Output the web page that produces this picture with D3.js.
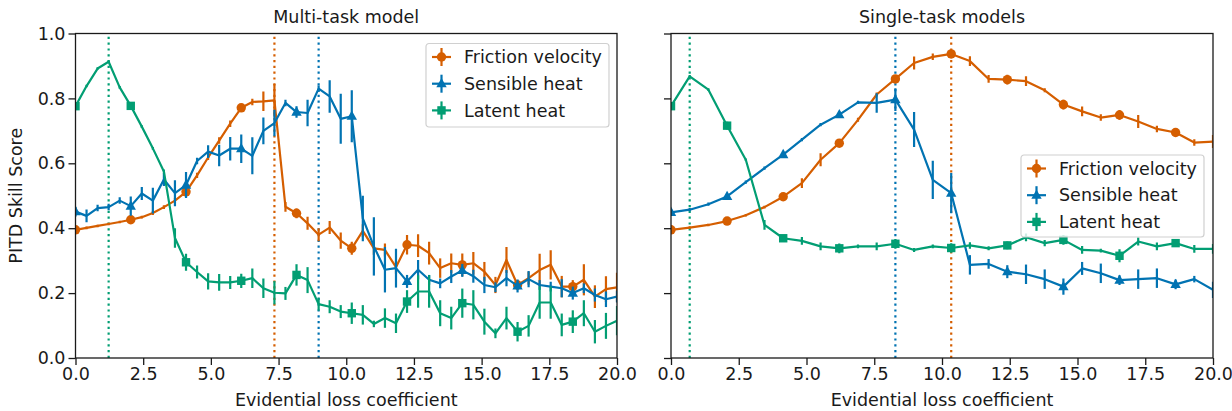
<!DOCTYPE html>
<html>
<head>
<meta charset="utf-8">
<title>PITD Skill Score</title>
<style>
  body { margin: 0; background: #fff; }
  text { font-family: "DejaVu Sans", sans-serif; fill: #1a1a1a; }
</style>
</head>
<body>
<script src="https://d3js.org/d3.v7.min.js"></script>
<script>
// evidential loss coefficient grids
var xMulti = [0, 0.408, 0.816, 1.224, 1.633, 2.041, 2.449, 2.857, 3.265, 3.673,
  4.082, 4.490, 4.898, 5.306, 5.714, 6.122, 6.531, 6.939, 7.347, 7.755,
  8.163, 8.571, 8.980, 9.388, 9.796, 10.204, 10.612, 11.020, 11.429, 11.837,
  12.245, 12.653, 13.061, 13.469, 13.878, 14.286, 14.694, 15.102, 15.510, 15.918,
  16.327, 16.735, 17.143, 17.551, 17.959, 18.367, 18.776, 19.184, 19.592, 20];
var xSingle = [0, 0.69, 1.38, 2.07, 2.76, 3.45, 4.14, 4.83, 5.52, 6.21,
  6.90, 7.59, 8.28, 8.97, 9.66, 10.34, 11.03, 11.72, 12.41, 13.10,
  13.79, 14.48, 15.17, 15.86, 16.55, 17.24, 17.93, 18.62, 19.31, 20];

// multi-task model
var fricMulti = [0.395, 0.401, 0.407, 0.413, 0.419, 0.426, 0.434, 0.447, 0.465, 0.485,
  0.512, 0.563, 0.618, 0.670, 0.722, 0.771, 0.789, 0.791, 0.794, 0.466,
  0.446, 0.415, 0.380, 0.402, 0.362, 0.338, 0.392, 0.338, 0.333, 0.280,
  0.349, 0.346, 0.323, 0.277, 0.292, 0.287, 0.292, 0.266, 0.225, 0.302,
  0.225, 0.246, 0.271, 0.287, 0.220, 0.220, 0.241, 0.189, 0.212, 0.218];
var fricMultiErr = [0.006, 0.004, 0.004, 0.004, 0.004, 0.006, 0.004, 0.006, 0.006, 0.008,
  0.010, 0.008, 0.008, 0.010, 0.010, 0.010, 0.010, 0.030, 0.050, 0.015,
  0.015, 0.020, 0.020, 0.020, 0.025, 0.020, 0.020, 0.020, 0.020, 0.020,
  0.030, 0.035, 0.035, 0.030, 0.030, 0.035, 0.035, 0.030, 0.025, 0.040,
  0.015, 0.020, 0.050, 0.045, 0.033, 0.020, 0.048, 0.035, 0.040, 0.045];
var sensMulti = [0.451, 0.438, 0.462, 0.465, 0.485, 0.468, 0.507, 0.485, 0.550, 0.508,
  0.533, 0.607, 0.636, 0.624, 0.645, 0.645, 0.623, 0.700, 0.724, 0.786,
  0.758, 0.755, 0.830, 0.806, 0.737, 0.745, 0.430, 0.344, 0.272, 0.277,
  0.236, 0.272, 0.241, 0.230, 0.251, 0.270, 0.252, 0.225, 0.218, 0.246,
  0.222, 0.243, 0.225, 0.220, 0.215, 0.200, 0.215, 0.194, 0.181, 0.189];
var sensMultiErr = [0.015, 0.020, 0.010, 0.010, 0.010, 0.030, 0.020, 0.040, 0.020, 0.040,
  0.040, 0.010, 0.020, 0.033, 0.036, 0.044, 0.057, 0.041, 0.041, 0.010,
  0.018, 0.041, 0.010, 0.050, 0.077, 0.080, 0.070, 0.090, 0.070, 0.060,
  0.020, 0.030, 0.015, 0.015, 0.020, 0.020, 0.020, 0.025, 0.015, 0.025,
  0.020, 0.025, 0.015, 0.015, 0.028, 0.020, 0.015, 0.020, 0.024, 0.018];
var latMulti = [0.776, 0.838, 0.892, 0.913, 0.834, 0.777, 0.713, 0.646, 0.575, 0.370,
  0.295, 0.265, 0.236, 0.233, 0.233, 0.238, 0.246, 0.215, 0.201, 0.199,
  0.256, 0.240, 0.166, 0.158, 0.143, 0.138, 0.133, 0.105, 0.123, 0.107,
  0.174, 0.205, 0.205, 0.138, 0.123, 0.169, 0.164, 0.112, 0.076, 0.123,
  0.081, 0.099, 0.171, 0.171, 0.102, 0.112, 0.138, 0.081, 0.099, 0.115];
var latMultiErr = [0.006, 0.004, 0.004, 0.004, 0.004, 0.006, 0.004, 0.004, 0.006, 0.030,
  0.026, 0.020, 0.025, 0.026, 0.020, 0.022, 0.030, 0.030, 0.036, 0.020,
  0.033, 0.040, 0.020, 0.020, 0.020, 0.033, 0.030, 0.010, 0.030, 0.030,
  0.035, 0.050, 0.050, 0.040, 0.035, 0.045, 0.045, 0.040, 0.015, 0.035,
  0.030, 0.033, 0.050, 0.050, 0.035, 0.035, 0.040, 0.036, 0.040, 0.045];

// single-task models
var fricSingle = [0.395, 0.402, 0.410, 0.422, 0.440, 0.465, 0.497, 0.539, 0.611, 0.662,
  0.734, 0.812, 0.860, 0.909, 0.928, 0.937, 0.915, 0.860, 0.858, 0.853,
  0.825, 0.781, 0.760, 0.741, 0.749, 0.729, 0.706, 0.695, 0.664, 0.667];
var fricSingleErr = [0.008, 0.004, 0.004, 0.008, 0.004, 0.004, 0.008, 0.015, 0.020, 0.010,
  0.006, 0.006, 0.010, 0.020, 0.010, 0.012, 0.015, 0.012, 0.015, 0.015,
  0.006, 0.015, 0.015, 0.010, 0.015, 0.020, 0.010, 0.010, 0.010, 0.020];
var sensSingle = [0.449, 0.457, 0.474, 0.498, 0.542, 0.585, 0.627, 0.673, 0.719, 0.750,
  0.788, 0.786, 0.796, 0.704, 0.549, 0.508, 0.287, 0.290, 0.266, 0.258,
  0.243, 0.220, 0.276, 0.261, 0.240, 0.243, 0.246, 0.227, 0.243, 0.210];
var sensSingleErr = [0.010, 0.005, 0.005, 0.010, 0.005, 0.005, 0.010, 0.005, 0.005, 0.010,
  0.005, 0.030, 0.035, 0.054, 0.059, 0.062, 0.030, 0.015, 0.020, 0.030,
  0.030, 0.025, 0.020, 0.030, 0.015, 0.030, 0.030, 0.015, 0.010, 0.025];
var latSingle = [0.776, 0.868, 0.827, 0.716, 0.611, 0.410, 0.369, 0.361, 0.344, 0.338,
  0.344, 0.344, 0.352, 0.333, 0.344, 0.339, 0.347, 0.338, 0.347, 0.372,
  0.354, 0.364, 0.333, 0.331, 0.315, 0.359, 0.344, 0.354, 0.336, 0.336];
var latSingleErr = [0.012, 0.004, 0.004, 0.012, 0.004, 0.015, 0.010, 0.012, 0.012, 0.015,
  0.006, 0.012, 0.015, 0.006, 0.006, 0.015, 0.010, 0.006, 0.012, 0.012,
  0.010, 0.015, 0.012, 0.006, 0.020, 0.012, 0.012, 0.012, 0.012, 0.015];

var seriesNames = ["Friction velocity", "Sensible heat", "Latent heat"];
var seriesColors = ["#d55e00", "#0173b2", "#029e73"];
var seriesMarkers = ["circle", "triangle", "square"];
var xTicks = [0, 2.5, 5, 7.5, 10, 12.5, 15, 17.5, 20];
var yTicks = [0, 0.2, 0.4, 0.6, 0.8, 1.0];

var panels = [
  { title: "Multi-task model", x: xMulti, every: 5, left: 75.5, right: 617,
    ys: [fricMulti, sensMulti, latMulti], errs: [fricMultiErr, sensMultiErr, latMultiErr],
    legend: { x: 426, y: 43.5, w: 183, h: 83.5 } },
  { title: "Single-task models", x: xSingle, every: 3, left: 671, right: 1213,
    ys: [fricSingle, sensSingle, latSingle], errs: [fricSingleErr, sensSingleErr, latSingleErr],
    legend: { x: 1021, y: 155, w: 183, h: 82 } }
];

var plotTop = 33.5, plotBottom = 358;
var fontSize = "17.5px";

var svg = d3.select("body").append("svg")
    .attr("width", 1232)
    .attr("height", 411);
svg.append("rect").attr("width", 1232).attr("height", 411).attr("fill", "#fff");

var yScale = d3.scaleLinear().domain([0, 1]).range([plotBottom, plotTop]);

function marker(g, type, cx, cy, color) {
  if (type == "circle") {
    g.append("circle").attr("cx", cx).attr("cy", cy).attr("r", 4.7).attr("fill", color);
  } else if (type == "square") {
    g.append("rect").attr("x", cx - 4.2).attr("y", cy - 4.2).attr("width", 8.4).attr("height", 8.4).attr("fill", color);
  } else {
    g.append("path").attr("d", "M" + cx + "," + (cy - 5.7) + "L" + (cx + 5.2) + "," + (cy + 3.6) + "L" + (cx - 5.2) + "," + (cy + 3.6) + "Z")
      .attr("fill", color);
  }
}

panels.forEach(function(p, pi) {
  var xScale = d3.scaleLinear().domain([0, 20]).range([p.left, p.right]);
  var g = svg.append("g");

  // clip to the axes box
  var clipId = "clip" + pi;
  svg.append("clipPath").attr("id", clipId).append("rect")
    .attr("x", p.left).attr("y", plotTop).attr("width", p.right - p.left).attr("height", plotBottom - plotTop);
  var plot = g.append("g").attr("clip-path", "url(#" + clipId + ")");

  // dotted lines at the best coefficient of each series
  p.ys.forEach(function(ys, si) {
    var best = p.x[d3.maxIndex(ys)];
    plot.append("line")
      .attr("x1", xScale(best)).attr("x2", xScale(best))
      .attr("y1", yScale(0)).attr("y2", yScale(1))
      .attr("stroke", seriesColors[si])
      .attr("stroke-width", 2.2)
      .attr("stroke-dasharray", "2.2,3.6");
  });

  p.ys.forEach(function(ys, si) {
    var color = seriesColors[si];
    var pts = ys.map(function(v, i) { return { x: p.x[i], y: v, e: p.errs[si][i], i: i }; });
    var sg = plot.append("g");

    sg.append("path")
      .datum(pts)
      .attr("fill", "none")
      .attr("stroke", color)
      .attr("stroke-width", 2.2)
      .attr("stroke-linejoin", "round")
      .attr("d", d3.line().x(function(d) { return xScale(d.x); }).y(function(d) { return yScale(d.y); }));

    sg.selectAll(".err")
      .data(pts)
      .enter()
      .append("line")
      .attr("x1", function(d) { return xScale(d.x); })
      .attr("x2", function(d) { return xScale(d.x); })
      .attr("y1", function(d) { return yScale(d.y - d.e); })
      .attr("y2", function(d) { return yScale(d.y + d.e); })
      .attr("stroke", color)
      .attr("stroke-width", 2.2);

    pts.filter(function(d) { return d.i % p.every == 0; }).forEach(function(d) {
      marker(sg, seriesMarkers[si], xScale(d.x), yScale(d.y), color);
    });
  });

  // frame
  g.append("rect")
    .attr("x", p.left).attr("y", plotTop)
    .attr("width", p.right - p.left).attr("height", plotBottom - plotTop)
    .attr("fill", "none").attr("stroke", "#1a1a1a").attr("stroke-width", 1.3);

  var xAxis = g.append("g")
    .attr("transform", "translate(0," + plotBottom + ")")
    .call(d3.axisBottom(xScale).tickValues(xTicks).tickFormat(d3.format(".1f")).tickSize(7).tickPadding(3));
  var yAxis = g.append("g")
    .attr("transform", "translate(" + p.left + ",0)")
    .call(d3.axisLeft(yScale).tickValues(yTicks).tickFormat(pi == 0 ? d3.format(".1f") : "").tickSize(7).tickPadding(3));
  [xAxis, yAxis].forEach(function(a) {
    a.select(".domain").remove();
    a.selectAll(".tick line").attr("stroke", "#1a1a1a").attr("stroke-width", 1.3);
    a.selectAll(".tick text").attr("font-size", fontSize).attr("font-family", "DejaVu Sans").attr("fill", "#1a1a1a");
  });

  g.append("text")
    .attr("x", (p.left + p.right) / 2).attr("y", 23)
    .attr("text-anchor", "middle").attr("font-size", fontSize)
    .text(p.title);

  g.append("text")
    .attr("x", (p.left + p.right) / 2).attr("y", 406)
    .attr("text-anchor", "middle").attr("font-size", fontSize)
    .text("Evidential loss coefficient");

  // legend
  var lg = g.append("g").attr("transform", "translate(" + p.legend.x + "," + p.legend.y + ")");
  lg.append("rect")
    .attr("width", p.legend.w).attr("height", p.legend.h)
    .attr("rx", 3).attr("fill", "#fff").attr("fill-opacity", 0.8)
    .attr("stroke", "#d0d0d0").attr("stroke-width", 1.2);
  seriesNames.forEach(function(name, si) {
    var cy = 13.5 + si * 26.7;
    var color = seriesColors[si];
    lg.append("line").attr("x1", 6).attr("x2", 25).attr("y1", cy).attr("y2", cy)
      .attr("stroke", color).attr("stroke-width", 2.2);
    lg.append("line").attr("x1", 15.5).attr("x2", 15.5).attr("y1", cy - 9).attr("y2", cy + 9)
      .attr("stroke", color).attr("stroke-width", 2.2);
    marker(lg, seriesMarkers[si], 15.5, cy, color);
    lg.append("text").attr("x", 38).attr("y", cy).attr("dy", "0.35em")
      .attr("font-size", fontSize).text(name);
  });
});

svg.append("text")
  .attr("transform", "translate(22," + ((plotTop + plotBottom) / 2) + ") rotate(-90)")
  .attr("text-anchor", "middle").attr("font-size", fontSize)
  .text("PITD Skill Score");
</script>
</body>
</html>
